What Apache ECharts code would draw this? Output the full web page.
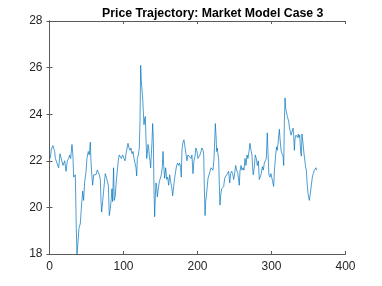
<!DOCTYPE html>
<html>
<head>
<meta charset="utf-8">
<script src="https://cdn.jsdelivr.net/npm/echarts@6/dist/echarts.min.js"></script>
<style>html,body{margin:0;padding:0;background:#fff;}#c{width:382px;height:286px;}</style>
</head>
<body>
<div id="c"></div>
<script>
const titleText = 'Price Trajectory: Market Model Case 3';
const xTicks = [0, 100, 200, 300, 400];
const yTicks = [18, 20, 22, 24, 26, 28];
const steps = [1,2.5,4.7,7,7.9,10.1,12.4,14.2,16,18.2,20.5,22.3,24.1,25.9,27.2,28.6,30.4,31.7,32.6,34,34.9,36.2,37.1,38.5,39.8,41.6,43,44.8,46.1,47.5,49.3,
50.6,52.4,53.8,55.2,56,57.4,58.3,59.7,61.5,62.8,64.6,66,67.3,68.7,69.6,70.5,71.8,73.1,74.5,75.4,77.2,78.5,79.5,80.8,82.2,83.5,84.4,85.3,86.6,87.5,88.9,90.2,91.6,92.9,94.3,95.6,97,98.8,100.6,
102,103.4,104.7,106.1,107.5,108.8,110.2,111.5,112.9,114.2,115.6,116.9,117.8,118.7,120,121.4,122.3,123.2,124.1,125,125.9,126.8,127.7,128.6,129.5,130.4,131.3,132.2,133.1,134,134.9,135.8,136.7,137.6,138.5,139.4,140.3,141.2,142.1,143,143.9,144.8,145.7,147,148.4,149.8,151.1,152.5,
153.4,154.3,155.6,157,158.3,159.7,161,162.4,163.7,165,166.4,167.8,169.1,170.5,171.8,173.2,174.5,175.9,177.2,178.1,179,180.4,181.7,183,184.4,185.8,187.1,188.5,189.8,191.2,192.5,193.9,195.2,196.6,197.9,199.3,200.6,202,203.3,
204.7,206.1,207.5,208.4,209.3,210.2,211.1,212,212.9,214.2,215.6,216.9,218.3,219.6,221,222.3,223.2,224.1,225,225.9,226.8,227.7,228.6,229.5,230.4,231.3,232.7,234,235.4,236.7,238.1,239.4,240.8,242.1,243.5,244.8,246.2,247.5,248.9,250.2,251.6,252.9,254.3,
255.6,256.5,257.4,258.8,260.1,261.5,262.8,264.2,265.5,266.9,268.2,269.6,270.9,272.3,273.6,274.5,275.4,276.8,278.1,279.5,280.8,282.2,283.5,284.9,286.2,287.6,288.9,290.3,291.6,293,294.3,295.2,296.5,297.9,299.2,300.6,301.9,302.9,304.2,305.6,306.9,307.8,308.7,
309.7,310.6,311.5,312.9,314.2,315.6,316.5,317.4,318.3,319.2,320.5,321.4,322.3,323.2,324.1,325.5,326.4,327.7,329.1,330,330.9,331.8,333.1,334.5,335.4,336.3,337.2,338.1,339.4,340.3,341.2,342.6,343.9,345.3,346.2,347.1,348,349.3,350.2,351.1,352.5,353.8,355.2,356.5,357.9,359.2,360.1,361];
const prices = [22.1,22.5,22.65,22.4,22.1,22.05,21.7,22.3,22.25,21.8,22.0,21.55,22.0,22.1,22.25,22.1,22.7,22.2,21.3,21.25,21.4,19.1,18.0,18.5,19.1,19.3,19.95,20.7,20.3,21.1,21.5,
22.1,22.4,22.25,22.8,22.0,21.3,20.95,21.4,21.45,21.4,21.6,21.55,21.4,21.2,20.25,19.8,20.25,20.7,20.7,21.45,21.25,21.3,20.95,19.65,19.95,20.4,20.8,20.25,21.7,20.3,20.5,21.1,21.55,22.0,22.25,22.3,22.1,22.25,22.3,
22.0,22.3,22.25,22.75,22.55,22.45,22.55,22.3,22.4,22.1,21.9,21.7,21.35,22.1,22.25,22.55,23.7,26.1,25.4,25.45,24.7,24.1,23.55,23.8,23.9,22.95,22.1,22.3,22.7,22.55,22.2,22.0,21.7,22.25,22.8,23.6,22.95,20.8,19.6,20.5,21.05,20.9,20.45,20.8,21.1,21.1,21.4,21.75,
22.4,21.8,21.25,21.7,21.2,21.3,20.95,21.4,21.1,20.9,20.5,20.9,21.25,21.55,21.8,21.9,21.8,21.9,21.7,21.3,22.45,22.8,22.9,22.95,22.3,22.0,22.25,22.2,22.25,22.1,22.25,21.45,22.0,22.2,22.55,22.4,22.1,22.05,22.25,
22.4,22.55,22.45,22.25,20.8,19.65,20.25,20.5,20.8,21.25,21.3,21.55,21.7,21.75,21.6,22.1,22.8,23.6,23.1,22.4,22.55,22.25,22.1,20.95,20.1,20.5,20.8,20.75,20.9,21.25,21.3,21.4,21.45,21.55,21.05,21.45,21.55,21.45,21.2,21.45,21.8,21.6,21.5,
21.45,20.95,21.55,21.8,21.6,21.7,21.6,22.1,21.8,22.25,22.1,22.4,22.75,22.45,22.25,21.7,21.4,21.75,22.25,22.1,21.8,22.0,21.2,21.15,21.45,21.75,21.6,21.9,22.0,22.1,23.2,22.4,21.4,21.3,21.45,21.25,21.2,20.9,21.7,22.25,22.6,22.45,22.7,
22.7,23.35,22.95,22.45,22.3,22.2,21.8,23.7,24.7,24.25,24.2,23.9,23.95,23.7,23.45,23.45,23.1,23.15,23.4,23.1,22.45,22.95,23.1,23.15,23.0,23.15,23.0,23.1,22.4,22.2,23.15,22.75,22.3,21.95,21.7,21.6,21.1,20.6,20.65,20.3,20.6,20.95,21.3,21.45,21.6,21.55,21.7,21.6];

const axisColor = '#5a5a5a';
const labelStyle = { color: '#262626', fontSize: 12, fontFamily: 'Liberation Sans, Arial, sans-serif' };
const tickStyle = { show: true, inside: true, length: 3, lineStyle: { color: axisColor, width: 1 } };
const lineStyleAxis = { show: true, lineStyle: { color: axisColor, width: 1 } };

const chart = echarts.init(document.getElementById('c'), null, { renderer: 'canvas' });
chart.setOption({
  animation: false,
  backgroundColor: '#fff',
  title: {
    text: titleText,
    left: 97,
    top: 3,
    textStyle: { fontSize: 12.3, fontWeight: 'bold', color: '#000', fontFamily: 'Liberation Sans, Arial, sans-serif' }
  },
  grid: { left: 49.5, right: 36.5, top: 21, bottom: 32, containLabel: false },
  xAxis: [
    { type: 'value', min: 0, max: 400, interval: 100, position: 'bottom',
      axisLine: lineStyleAxis, axisTick: tickStyle, splitLine: { show: false },
      axisLabel: Object.assign({ margin: 7, formatter: v => xTicks.includes(v) ? String(v) : '' }, labelStyle) },
    { type: 'value', min: 0, max: 400, interval: 100, position: 'top',
      axisLine: lineStyleAxis, axisTick: tickStyle, splitLine: { show: false }, axisLabel: { show: false } }
  ],
  yAxis: [
    { type: 'value', min: 18, max: 28, interval: 2, position: 'left',
      axisLine: lineStyleAxis, axisTick: tickStyle, splitLine: { show: false },
      axisLabel: Object.assign({ margin: 7, formatter: v => yTicks.includes(v) ? String(v) : '' }, labelStyle) },
    { type: 'value', min: 18, max: 28, interval: 2, position: 'right',
      axisLine: lineStyleAxis, axisTick: tickStyle, splitLine: { show: false }, axisLabel: { show: false } }
  ],
  series: [{
    type: 'line',
    xAxisIndex: 0, yAxisIndex: 0,
    data: steps.map((s, i) => [s, prices[i]]),
    showSymbol: false,
    lineStyle: { color: '#0072BD', width: 0.7 },
    clip: true
  }]
});
</script>
</body>
</html>
